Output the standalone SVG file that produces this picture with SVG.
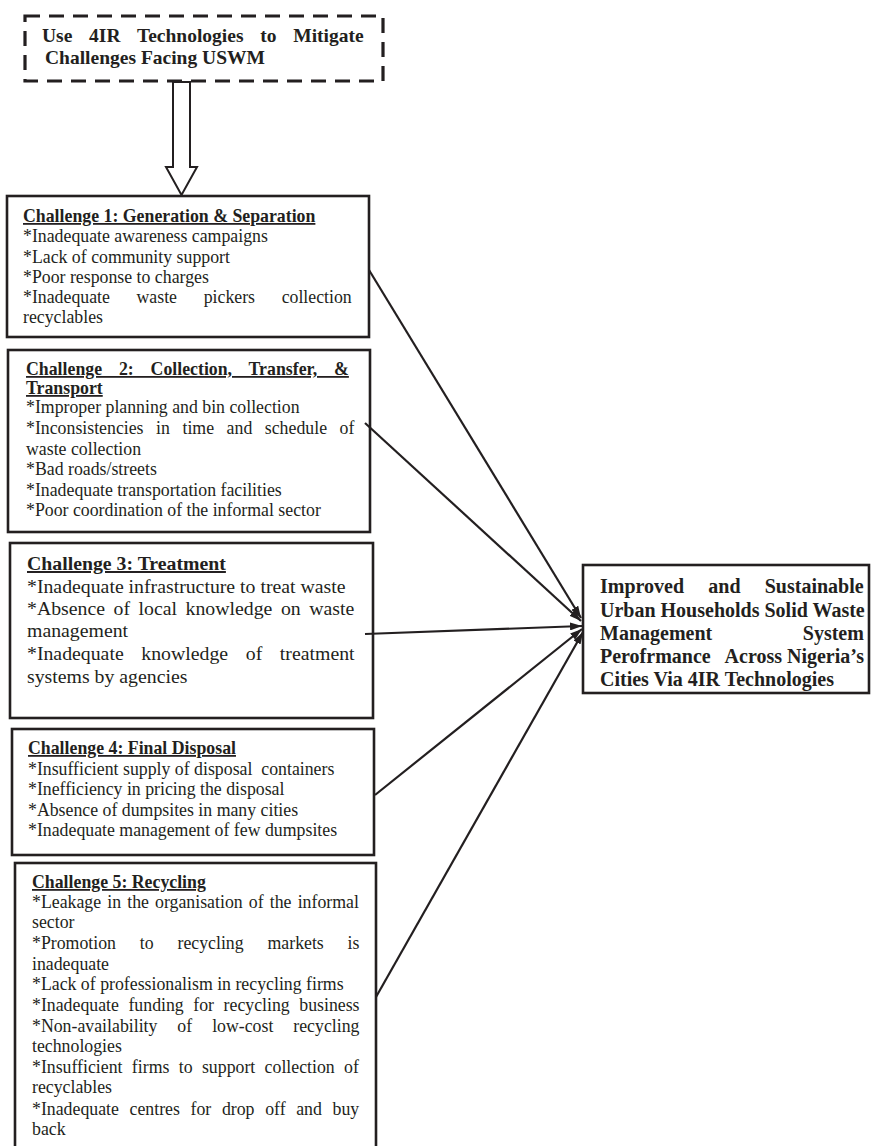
<svg xmlns="http://www.w3.org/2000/svg" width="873" height="1146" viewBox="0 0 873 1146">
<defs>
<style>
.box{fill:#fff;stroke:#231f20;stroke-width:2.6}
.t{font-family:"Liberation Serif","Times New Roman",serif;fill:#231f20}
.b{font-weight:bold}
.s18{font-size:17.8px}
.s20{font-size:19.8px}
.u{text-decoration:underline}
.conn{stroke:#231f20;stroke-width:2.2;fill:none}
</style>
<marker id="ah" viewBox="0 0 12 8" refX="12" refY="4" markerWidth="12" markerHeight="8" markerUnits="userSpaceOnUse" orient="auto">
<path d="M0,0 L12,4 L0,8 z" fill="#231f20"/>
</marker>
</defs>
<rect width="873" height="1146" fill="#fff"/>

<g id="top">
<rect x="25" y="16" width="358" height="65" fill="#fff" stroke="#231f20" stroke-width="3.2" stroke-dasharray="15 9"/>
<text class="t b" font-size="19.5px" x="42" y="42" style="word-spacing:11.9px">Use 4IR Technologies to Mitigate</text>
<text class="t b" font-size="19.5px" x="45" y="64">Challenges Facing USWM</text>
</g>

<g id="bigarrow">
<polygon points="173,82 190,82 190,167 197,167 181.5,195 166,167 173,167" fill="#fff" stroke="#231f20" stroke-width="2"/>
</g>

<g id="c1">
<rect class="box" x="7" y="196" width="362" height="141"/>
<text class="t b s18 u" x="23" y="222">Challenge 1: Generation &amp; Separation</text>
<text class="t s18" x="23" y="242">*Inadequate awareness campaigns</text>
<text class="t s18" x="23" y="263">*Lack of community support</text>
<text class="t s18" x="23" y="283">*Poor response to charges</text>
<text class="t s18" x="23" y="303" style="word-spacing:22.2px">*Inadequate waste pickers collection</text>
<text class="t s18" x="23" y="323">recyclables</text>
</g>

<g id="c2">
<rect class="box" x="8" y="350" width="362" height="182"/>
<text class="t b s18 u" x="26" y="375" style="word-spacing:12.4px">Challenge 2: Collection, Transfer, &amp;</text>
<text class="t b s18 u" x="26" y="394">Transport</text>
<text class="t s18" x="26" y="413">*Improper planning and bin collection</text>
<text class="t s18" x="26" y="434" style="word-spacing:8.1px">*Inconsistencies in time and schedule of</text>
<text class="t s18" x="26" y="455">waste collection</text>
<text class="t s18" x="26" y="475">*Bad roads/streets</text>
<text class="t s18" x="26" y="496">*Inadequate transportation facilities</text>
<text class="t s18" x="26" y="516">*Poor coordination of the informal sector</text>
</g>

<g id="c3">
<rect class="box" x="10" y="543" width="363" height="175"/>
<text class="t b s20 u" x="27" y="570">Challenge 3: Treatment</text>
<text class="t s20" x="27" y="593">*Inadequate infrastructure to treat waste</text>
<text class="t s20" x="27" y="615" style="word-spacing:3.6px">*Absence of local knowledge on waste</text>
<text class="t s20" x="27" y="637">management</text>
<text class="t s20" x="27" y="660" style="word-spacing:12.7px">*Inadequate knowledge of treatment</text>
<text class="t s20" x="27" y="683">systems by agencies</text>
</g>

<g id="c4">
<rect class="box" x="12" y="729" width="362" height="126"/>
<text class="t b s18 u" x="28" y="754">Challenge 4: Final Disposal</text>
<text class="t s18" x="28" y="775" xml:space="preserve">*Insufficient supply of disposal  containers</text>
<text class="t s18" x="28" y="795">*Inefficiency in pricing the disposal</text>
<text class="t s18" x="28" y="816">*Absence of dumpsites in many cities</text>
<text class="t s18" x="28" y="836">*Inadequate management of few dumpsites</text>
</g>

<g id="c5">
<rect class="box" x="15" y="863" width="361" height="300"/>
<text class="t b s18 u" x="32" y="888">Challenge 5: Recycling</text>
<text class="t s18" x="32" y="908" style="word-spacing:1.7px">*Leakage in the organisation of the informal</text>
<text class="t s18" x="32" y="928">sector</text>
<text class="t s18" x="32" y="949" style="word-spacing:19.4px">*Promotion to recycling markets is</text>
<text class="t s18" x="32" y="970">inadequate</text>
<text class="t s18" x="32" y="990">*Lack of professionalism in recycling firms</text>
<text class="t s18" x="32" y="1011" style="word-spacing:5.1px">*Inadequate funding for recycling business</text>
<text class="t s18" x="32" y="1032" style="word-spacing:15.5px">*Non-availability of low-cost recycling</text>
<text class="t s18" x="32" y="1052">technologies</text>
<text class="t s18" x="32" y="1073" style="word-spacing:4.9px">*Insufficient firms to support collection of</text>
<text class="t s18" x="32" y="1093">recyclables</text>
<text class="t s18" x="32" y="1115" style="word-spacing:6.2px">*Inadequate centres for drop off and buy</text>
<text class="t s18" x="32" y="1135">back</text>
</g>

<g id="outcome">
<rect class="box" x="583" y="565" width="286" height="128"/>
<text class="t b" font-size="20px" x="600" y="593" style="word-spacing:19.2px">Improved and Sustainable</text>
<text class="t b" font-size="20px" x="600" y="617">Urban Households Solid Waste</text>
<text class="t b" font-size="20px" x="600" y="640" style="word-spacing:85.6px">Management System</text>
<text class="t b" font-size="20px" y="663"><tspan x="600">Perofrmance</tspan><tspan x="864" text-anchor="end">Across Nigeria’s</tspan></text>
<text class="t b" font-size="20px" x="600" y="686">Cities Via 4IR Technologies</text>
</g>

<g id="connectors">
<line class="conn" x1="369" y1="270" x2="581" y2="618" marker-end="url(#ah)"/>
<line class="conn" x1="365" y1="423" x2="581" y2="621" marker-end="url(#ah)"/>
<line class="conn" x1="365" y1="634" x2="582" y2="626" marker-end="url(#ah)"/>
<line class="conn" x1="375" y1="795" x2="582" y2="629" marker-end="url(#ah)"/>
<line class="conn" x1="376" y1="997" x2="583" y2="632" marker-end="url(#ah)"/>
</g>
</svg>
